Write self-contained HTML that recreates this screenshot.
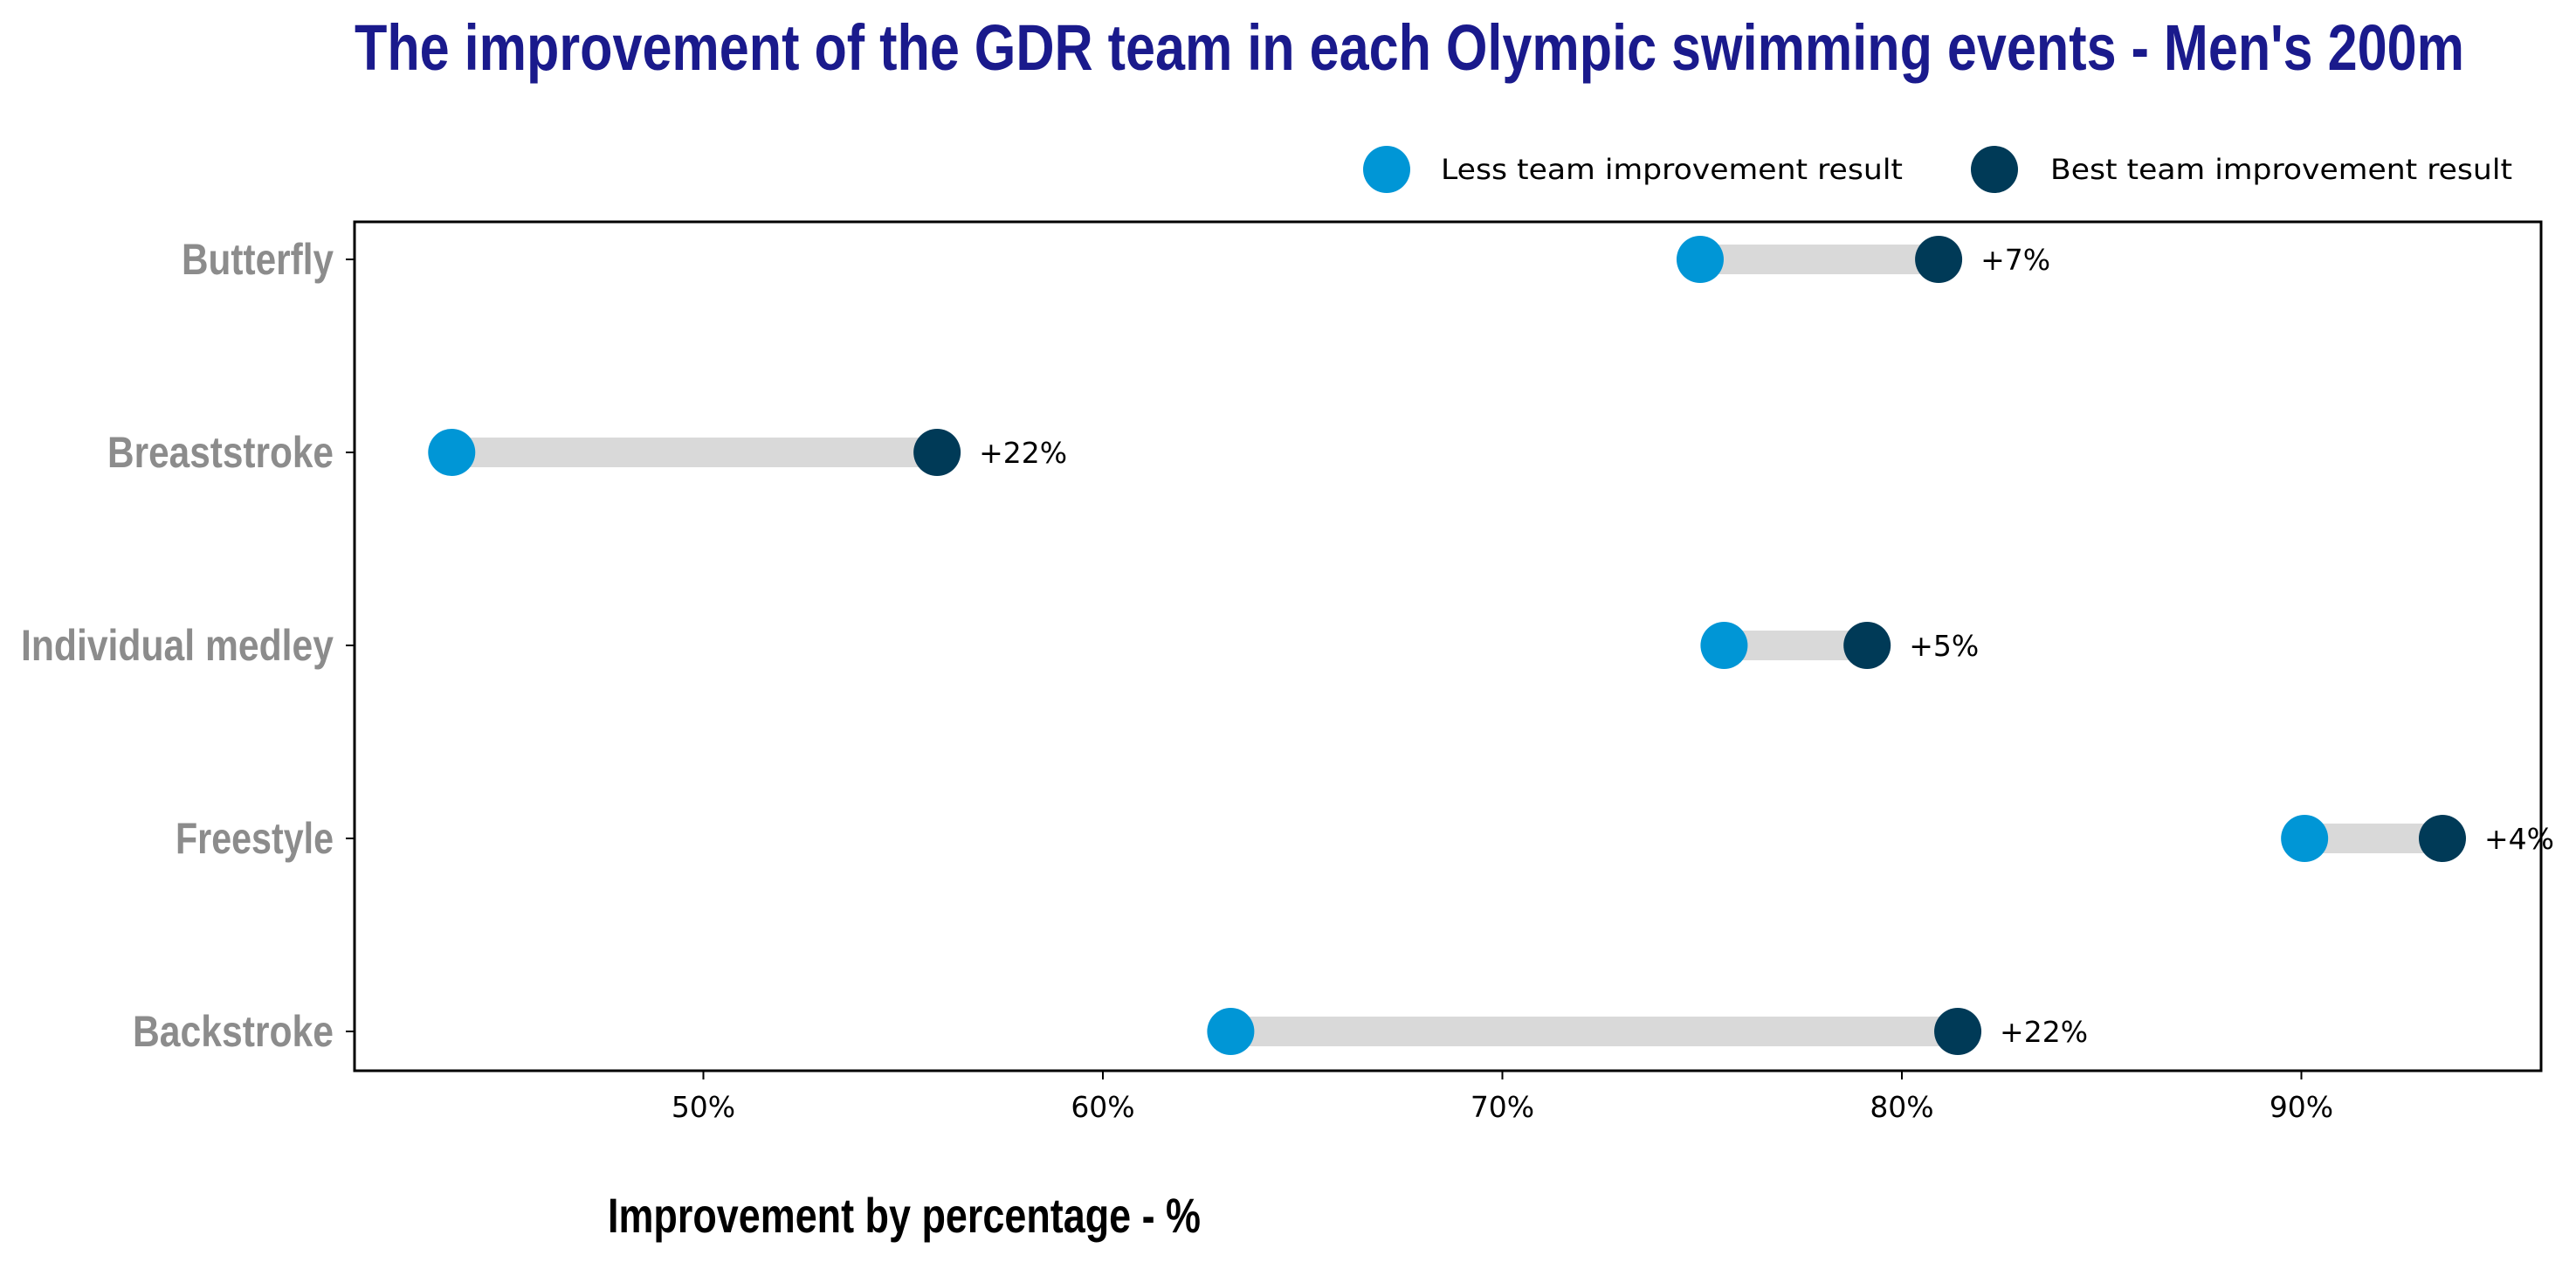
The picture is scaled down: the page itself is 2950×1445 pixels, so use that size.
<!DOCTYPE html>
<html><head><meta charset="utf-8"><style>
html,body{margin:0;padding:0;background:#fff;}
svg{display:block;}
</style></head><body>
<svg id="chart" width="2950" height="1445" xmlns="http://www.w3.org/2000/svg">
<text x="406" y="80" font-family="Liberation Sans, sans-serif" font-weight="bold" font-size="74" fill="#1a1a8c" textLength="2416" lengthAdjust="spacingAndGlyphs">The improvement of the GDR team in each Olympic swimming events - Men's 200m</text>
<g>
<circle cx="1588" cy="194" r="27" fill="#0096d6"/>
<text x="1650" y="205" font-family="DejaVu Sans, sans-serif" font-size="32" fill="#000" textLength="529" lengthAdjust="spacingAndGlyphs">Less team improvement result</text>
<circle cx="2284" cy="194" r="27" fill="#003a57"/>
<text x="2348" y="205" font-family="DejaVu Sans, sans-serif" font-size="32" fill="#000" textLength="529" lengthAdjust="spacingAndGlyphs">Best team improvement result</text>
</g>
<g id="plot"></g>
<rect x="406" y="254" width="2504" height="972" fill="none" stroke="#000" stroke-width="3"/>
<text x="696" y="1411" font-family="Liberation Sans, sans-serif" font-weight="bold" font-size="56" fill="#000" textLength="679" lengthAdjust="spacingAndGlyphs">Improvement by percentage - %</text>
</svg>
<script>
const categories = ["Butterfly","Breaststroke","Individual medley","Freestyle","Backstroke"];
const lessValues = [74.95, 43.7, 75.55, 90.08, 63.2];
const bestValues = [80.92, 55.85, 79.13, 93.53, 81.4];
const diffLabels = ["+7%","+22%","+5%","+4%","+22%"];
const xTicks = [50,60,70,80,90];
const xTickLabels = ["50%","60%","70%","80%","90%"];
const catWidths = [174,259,358,181,230];

const NS="http://www.w3.org/2000/svg";
const g=document.getElementById('plot');
function xs(v){return 2178+(v-80)*45.75;}
function ys(i){return 297+i*221;}
function mk(tag,attrs,parent){const e=document.createElementNS(NS,tag);for(const k in attrs)e.setAttribute(k,attrs[k]);(parent||g).appendChild(e);return e;}

xTicks.forEach((t,i)=>{
  const l=mk('line',{x1:xs(t),x2:xs(t),y1:1226,y2:1236,stroke:'#000','stroke-width':2});
  
  
  const tx=mk('text',{x:xs(t),y:1279,'text-anchor':'middle','font-family':'DejaVu Sans, sans-serif','font-size':33,fill:'#000'});
  tx.textContent=xTickLabels[i];
  
  
});
categories.forEach((c,i)=>{
  const y=ys(i);
  const tk=mk('line',{x1:396,x2:406,y1:y,y2:y,stroke:'#000','stroke-width':2});
  
  
  const lb=mk('text',{x:382,y:y+17,'text-anchor':'end','font-family':'Liberation Sans, sans-serif','font-weight':'bold','font-size':50,fill:'#8c8c8c',textLength:catWidths[i],lengthAdjust:'spacingAndGlyphs'});
  lb.textContent=c;
  
  
  const bar=mk('line',{x1:xs(lessValues[i]),x2:xs(bestValues[i]),y1:y,y2:y,stroke:'#d9d9d9','stroke-width':34});
  
  
  const p1=mk('circle',{cx:xs(lessValues[i]),cy:y,r:27,fill:'#0096d6'});
  
  
  const p2=mk('circle',{cx:xs(bestValues[i]),cy:y,r:27,fill:'#003a57'});
  
  
  const dl=mk('text',{x:xs(bestValues[i])+48,y:y+12,'font-family':'DejaVu Sans, sans-serif','font-size':33,fill:'#000'});
  dl.textContent=diffLabels[i];
  
  
});
</script>
</body></html>
